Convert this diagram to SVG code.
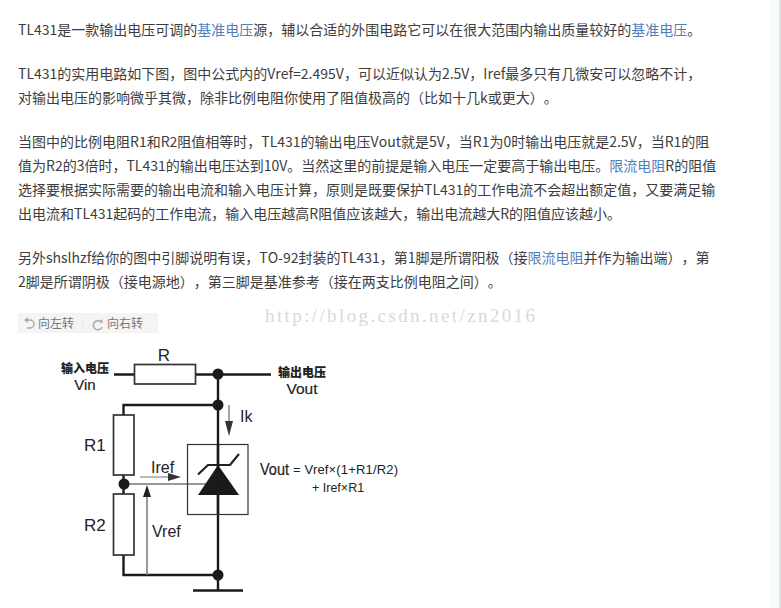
<svg xmlns="http://www.w3.org/2000/svg" width="781" height="608" viewBox="0 0 781 608">
<style>
.t{font-family:"Noto Sans CJK SC","Liberation Sans",sans-serif;font-size:14px;fill:#3d3d3d;text-spacing-trim:space-all;font-kerning:none;font-feature-settings:"chws" 0,"halt" 0,"palt" 0,"kern" 0}
.l{fill:#4f80b8}
.c{font-family:"Liberation Sans","Noto Sans CJK SC",sans-serif;fill:#222}
.b{font-family:"Noto Sans CJK SC",sans-serif;font-weight:900;font-size:12px;fill:#222;text-anchor:middle}
.w{fill:none;stroke:#1a1a1a;stroke-width:2.400}
.box{fill:#fff;stroke:#333;stroke-width:1.700}
.tb{font-family:"Noto Sans CJK SC",sans-serif;font-size:12px;fill:#777}
</style>
<rect width="781" height="608" fill="#fff"/>
<rect x="770" width="9" height="608" fill="#f6fbfb"/>
<rect x="779" width="2" height="608" fill="#e4e4e4"/>
<g id="article">
<text class="t" x="18" y="35">TL431是一款输出电压可调的<tspan class="l">基准电压</tspan>源，辅以合适的外围电路它可以在很大范围内输出质量较好的<tspan class="l">基准电压</tspan>。</text>
<text class="t" x="18" y="79">TL431的实用电路如下图，图中公式内的Vref=2.495V，可以近似认为2.5V，Iref最多只有几微安可以忽略不计，</text>
<text class="t" x="18" y="103">对输出电压的影响微乎其微，除非比例电阻你使用了阻值极高的<tspan>（</tspan>比如十几k或更大<tspan>）</tspan><tspan>。</tspan></text>
<text class="t" x="18" y="147">当图中的比例电阻R1和R2阻值相等时，TL431的输出电压Vout就是5V，当R1为0时输出电压就是2.5V，当R1的阻</text>
<text class="t" x="18" y="171">值为R2的3倍时，TL431的输出电压达到10V。当然这里的前提是输入电压一定要高于输出电压。<tspan class="l">限流电阻</tspan>R的阻值</text>
<text class="t" x="18" y="195">选择要根据实际需要的输出电流和输入电压计算，原则是既要保护TL431的工作电流不会超出额定值，又要满足输</text>
<text class="t" x="18" y="219">出电流和TL431起码的工作电流，输入电压越高R阻值应该越大，输出电流越大R的阻值应该越小。</text>
<text class="t" x="18" y="263">另外shslhzf给你的图中引脚说明有误，TO-92封装的TL431，第1脚是所谓阳极<tspan>（</tspan>接<tspan class="l">限流电阻</tspan>并作为输出端<tspan>）</tspan>，第</text>
<text class="t" x="18" y="287">2脚是所谓阴极<tspan>（</tspan>接电源地<tspan>）</tspan>，第三脚是基准参考<tspan>（</tspan>接在两支比例电阻之间<tspan>）</tspan><tspan>。</tspan></text>
</g>
<text id="watermark" x="265" y="322" font-family="Liberation Serif,serif" font-size="19" fill="#d9d9d9" textLength="270" lengthAdjust="spacing">http://blog.csdn.net/zn2016</text>
<g id="toolbar">
<rect x="18" y="313" width="140" height="20" fill="#f4f4f4"/>
<path d="M27 320h3a4 4 0 0 1 0 8h-3" fill="none" stroke="#aaa" stroke-width="1.500"/>
<path d="M24 320l4-3v6z" fill="#aaa"/>
<text class="tb" x="38" y="328">向左转</text>
<path d="M83 320v7" stroke="#e4e4e4"/>
<path d="M101 322a4.500 4.500 0 1 0 1 5" fill="none" stroke="#aaa" stroke-width="1.500"/>
<path d="M103 323l-4-1 3-3z" fill="#aaa"/>
<text class="tb" x="107" y="328">向右转</text>
</g>
<g id="connectors">
<path class="w" d="M114 374.500H134M195 374.500H271"/>
<path class="w" d="M218 374V590M193 590.500H243"/>
<path class="w" d="M218 405H123.500V415M123.500 475V494M123.500 555V575H218"/>
<path d="M124 484H218" fill="none" stroke="#333" stroke-width="1.200"/>
<path d="M147 575V490" fill="none" stroke="#777" stroke-width="1.500"/>
<path d="M143 497L147 485L151 497Z" fill="#222"/>
<path d="M140 477H170" fill="none" stroke="#777" stroke-width="1"/>
<path d="M168 473L181 477L168 481Z" fill="#333"/>
<path d="M229 405V424" fill="none" stroke="#666" stroke-width="1.200"/>
<path d="M225 421H233L229 436Z" fill="#333"/>
<circle cx="218" cy="374" r="5.500" fill="#1a1a1a"/>
<circle cx="218" cy="405" r="5.500" fill="#1a1a1a"/>
<circle cx="124" cy="484" r="5.500" fill="#1a1a1a"/>
<circle cx="218" cy="575" r="5.500" fill="#1a1a1a"/>
</g>
<g id="R"><rect class="box" x="134.500" y="364.500" width="61" height="19.500"/><text class="c" x="164" y="361" font-size="17" text-anchor="middle">R</text></g>
<g id="R1"><rect class="box" x="113.500" y="415" width="20.500" height="60"/><text class="c" x="84" y="451" font-size="17">R1</text></g>
<g id="R2"><rect class="box" x="113.500" y="494" width="20.500" height="61"/><text class="c" x="84" y="531" font-size="17">R2</text></g>
<g id="TL431">
<rect x="187.500" y="444.500" width="60.500" height="70" fill="none" stroke="#333" stroke-width="1.200"/>
<path d="M218 465L239 495H198Z" fill="#1a1a1a"/>
<path d="M198 474.500L208 465H230L239 454" fill="none" stroke="#222" stroke-width="2.200"/>
<path d="M218 444V514" stroke="#1a1a1a" stroke-width="2.400"/>
</g>
<g id="labels">
<text class="b" x="85" y="373">输入电压</text>
<text class="c" x="85" y="390" font-size="15" text-anchor="middle" stroke="#222" stroke-width=".2">Vin</text>
<text class="b" x="302" y="377">输出电压</text>
<text class="c" x="302" y="394" font-size="15.500" text-anchor="middle" stroke="#222" stroke-width=".2">Vout</text>
<text class="c" x="151" y="473" font-size="16">Iref</text>
<text class="c" x="152" y="537" font-size="16">Vref</text>
<text class="c" x="240" y="422" font-size="16">Ik</text>
<text class="c" x="260" y="475" font-size="16" textLength="29" lengthAdjust="spacingAndGlyphs" stroke="#222" stroke-width=".2">Vout</text>
<text class="c" x="293" y="474" font-size="13" textLength="105" lengthAdjust="spacing">= Vref×(1+R1/R2)</text>
<text class="c" x="312" y="492" font-size="12.500">+ Iref×R1</text>
</g>
</svg>
